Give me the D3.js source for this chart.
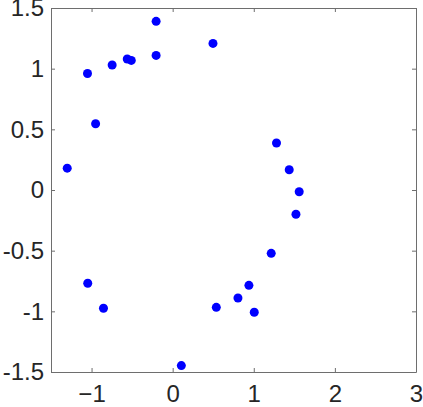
<!DOCTYPE html>
<html>
<head>
<meta charset="utf-8">
<script src="https://cdn.jsdelivr.net/npm/d3@7"></script>
<style>
  body { margin: 0; background: #fff; }
  svg text { font-family: "Liberation Sans", Arial, sans-serif; }
</style>
</head>
<body>
<div id="chart"></div>
<script>
// points
var xs = [-0.204, 0.497, -1.05, -0.746, -0.56, -0.51, -0.204, -0.95, -1.30,
          1.28, 1.437, 1.56, 1.52, 1.215, 0.94, 0.805, 0.538, 1.006,
          -1.047, -0.853, 0.107];
var ys = [1.39, 1.208, 0.96, 1.03, 1.08, 1.068, 1.109, 0.546, 0.18,
          0.387, 0.167, -0.014, -0.20, -0.522, -0.786, -0.89, -0.967, -1.008,
          -0.769, -0.975, -1.447];
var xTicks = [-1, 0, 1, 2, 3];
var yTicks = [-1.5, -1, -0.5, 0, 0.5, 1, 1.5];

var width = 423, height = 407;
var padding = {top: 8, right: 7, bottom: 35, left: 51};
var chartArea = {
	width: width - padding.left - padding.right,
	height: height - padding.top - padding.bottom
};

var svg = d3.select("#chart").append("svg")
	.attr("width", width)
	.attr("height", height);

var xScale = d3.scaleLinear().domain([-1.5, 3]).range([0, chartArea.width]);
var yScale = d3.scaleLinear().domain([-1.5, 1.5]).range([chartArea.height, 0]);

var g = svg.append("g")
	.attr("transform", "translate(" + padding.left + "," + padding.top + ")");

// box axes, ticks pointing inward
g.append("g")
	.attr("transform", "translate(0," + chartArea.height + ")")
	.call(d3.axisBottom(xScale).tickValues(xTicks).tickSizeInner(-4).tickSizeOuter(0)
		.tickPadding(13).tickFormat(d3.format("")));
g.append("g")
	.call(d3.axisTop(xScale).tickValues(xTicks).tickSizeInner(-4).tickSizeOuter(0)
		.tickFormat(""));
g.append("g")
	.call(d3.axisLeft(yScale).tickValues(yTicks).tickSizeInner(-4).tickSizeOuter(0)
		.tickPadding(7).tickFormat(function(d) { return String(d); }));
g.append("g")
	.attr("transform", "translate(" + chartArea.width + ",0)")
	.call(d3.axisRight(yScale).tickValues(yTicks).tickSizeInner(-4).tickSizeOuter(0)
		.tickFormat(""));

g.selectAll(".domain, .tick line").attr("stroke", "#6e6e6e");
g.selectAll(".tick text")
	.attr("fill", "#262626")
	.style("font-size", "24px");

g.selectAll(".dot")
	.data(xs)
	.enter()
	.append("circle")
	.attr("class", "dot")
	.attr("r", 4.5)
	.attr("cx", function(d) { return xScale(d); })
	.attr("cy", function(d, i) { return yScale(ys[i]); })
	.attr("fill", "#0000ff");
</script>
</body>
</html>
